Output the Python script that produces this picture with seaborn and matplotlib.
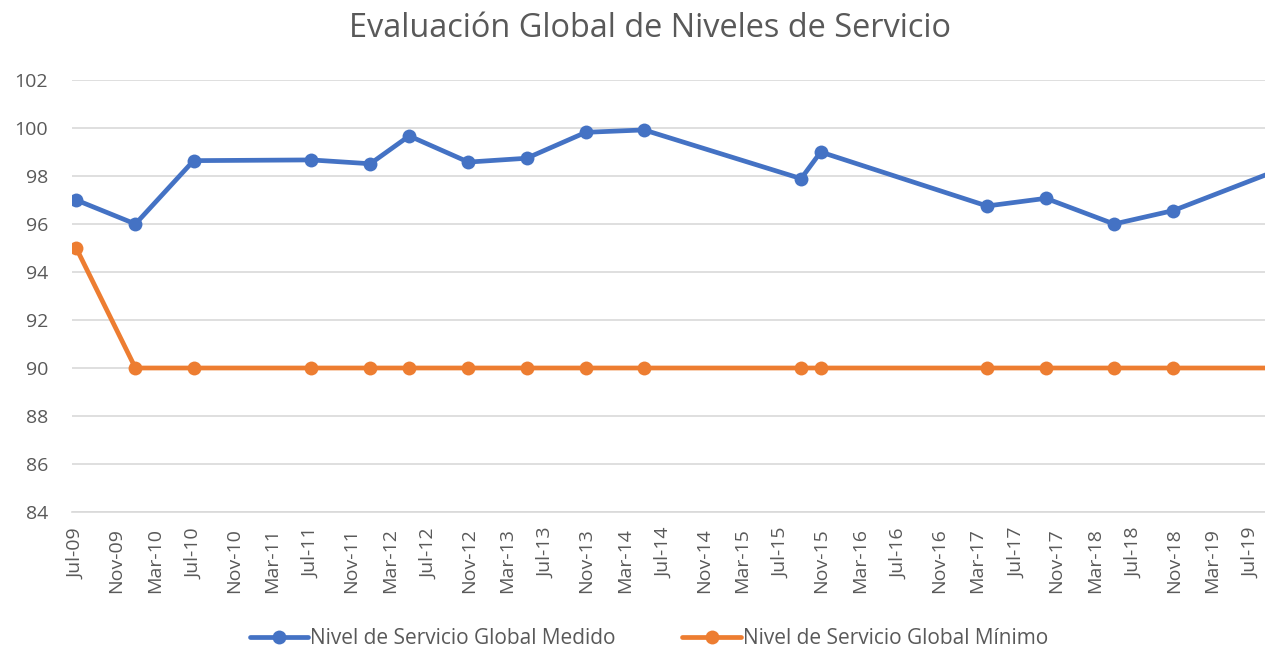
import pandas as pd
import numpy as np
import matplotlib
matplotlib.use("Agg")
import matplotlib.pyplot as plt
import matplotlib.dates as mdates
import matplotlib.transforms as mtransforms
import seaborn as sns

# fechas de medicion
fechas = pd.to_datetime([
    "2009-07-15", "2010-01-15", "2010-07-15", "2011-07-15", "2012-01-15",
    "2012-05-15", "2012-11-15", "2013-05-15", "2013-11-15", "2014-05-15",
    "2015-09-15", "2015-11-15", "2017-04-15", "2017-10-15", "2018-05-15",
    "2018-11-15", "2019-11-15",
])
medido = [97.0, 96.0, 98.64, 98.67, 98.51, 99.67, 98.58, 98.74, 99.82, 99.92,
          97.89, 99.0, 96.75, 97.07, 96.0, 96.56, 98.45]
minimo = [95, 90, 90, 90, 90, 90, 90, 90, 90, 90, 90, 90, 90, 90, 90, 90, 90]

lbl_medido = "Nivel de Servicio Global Medido"
lbl_minimo = "Nivel de Servicio Global Mínimo"
titulo = "Evaluación Global de Niveles de Servicio"

sns.set_style("white")
plt.rcParams["font.family"] = ["Open Sans", "DejaVu Sans"]
gris = "#595959"

fig = plt.figure(figsize=(12.65, 6.5), dpi=100)
ax = fig.add_axes([71.7 / 1265, 138 / 650, 1 - 71.7 / 1265, 432 / 650])

sns.lineplot(x=fechas, y=medido, ax=ax, color="#4472C4", linewidth=3.4,
             marker="o", markersize=10, markeredgewidth=0, label=lbl_medido,
             zorder=3)
sns.lineplot(x=fechas, y=minimo, ax=ax, color="#ED7D31", linewidth=3.4,
             marker="o", markersize=10, markeredgewidth=0, label=lbl_minimo,
             zorder=3)

ax.set_xlim(pd.Timestamp("2009-07-01"), pd.Timestamp("2019-08-27"))
ax.set_ylim(84, 102)
ax.set_yticks(range(84, 103, 2))
ax.xaxis.set_major_locator(mdates.MonthLocator(bymonth=[3, 7, 11], bymonthday=1))
ax.xaxis.set_major_formatter(mdates.DateFormatter("%b-%y"))

ax.grid(axis="y", color="#D9D9D9", linewidth=1.2, zorder=0)
ax.grid(axis="x", visible=False)
for s in ["top", "right", "left"]:
    ax.spines[s].set_visible(False)
ax.spines["bottom"].set_color("#D9D9D9")
ax.spines["bottom"].set_linewidth(1.2)
ax.set_axisbelow(True)

ax.tick_params(axis="y", length=0, pad=17, labelsize=14, labelcolor=gris)
ax.tick_params(axis="x", length=4.5, width=1.2, color="#D9D9D9", pad=7,
               labelsize=14, labelcolor=gris, labelrotation=90)
# etiquetas desplazadas a la derecha como en Excel
desplaza = mtransforms.ScaledTranslation(5 / 100, 0, fig.dpi_scale_trans)
for t in ax.get_xticklabels():
    t.set_transform(t.get_transform() + desplaza)
ax.set_xlabel("")
ax.set_ylabel("")

fig.suptitle(titulo, x=650 / 1265, y=0.982, fontsize=23.4, color=gris)

ax.legend(loc="lower center", ncol=2, frameon=False, fontsize=15,
          labelcolor=gris, handlelength=2.8, handletextpad=0.1,
          columnspacing=3.2)
ax.get_legend().set_bbox_to_anchor((0.513, -0.028), transform=fig.transFigure)

fig.savefig("out.png", dpi=100)
